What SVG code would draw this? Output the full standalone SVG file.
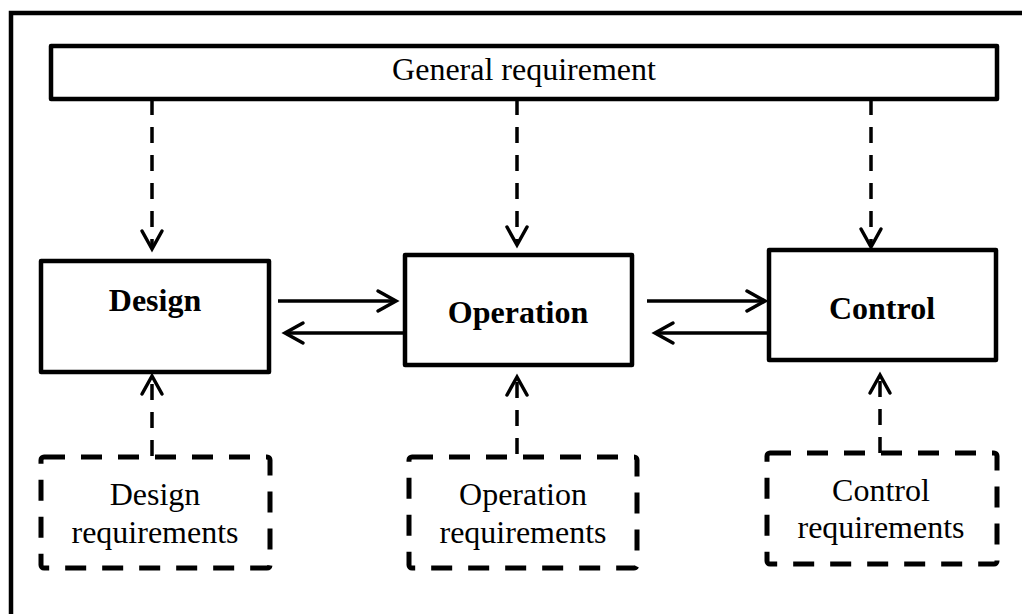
<svg xmlns="http://www.w3.org/2000/svg" width="1022" height="614" viewBox="0 0 1022 614">
<style>
.box{fill:#fff;stroke:#000;stroke-width:4.5;stroke-linejoin:round}
.dbox{fill:none;stroke:#000;stroke-width:5;stroke-dasharray:21 16;stroke-linejoin:round}
.solid{fill:none;stroke:#000;stroke-width:3.5;marker-end:url(#chev)}
.dash{fill:none;stroke:#000;stroke-width:3.5;stroke-dasharray:16 12;marker-end:url(#chev)}
.b{font-family:"Liberation Serif","Times New Roman",serif;font-size:32px;font-weight:bold;text-anchor:middle;fill:#000}
.r{font-family:"Liberation Serif","Times New Roman",serif;font-size:32px;text-anchor:middle;fill:#000}
</style>
<defs>
<marker id="chev" markerUnits="userSpaceOnUse" viewBox="-22 -13 26 26" markerWidth="26" markerHeight="26" refX="0" refY="0" orient="auto">
<path d="M-18,-10 L0,0 L-18,10" fill="none" stroke="#000" stroke-width="3.5" stroke-linecap="round" stroke-linejoin="miter"/>
</marker>
</defs>
<rect x="0" y="0" width="1022" height="614" fill="#fff"/>
<rect id="frame" x="11" y="13" width="1030" height="620" fill="none" stroke="#000" stroke-width="4.5"/>
<g id="connectors">
<path class="dash" d="M152,99 L152,249"/>
<path class="dash" d="M517,99 L517,245"/>
<path class="dash" d="M871,99 L871,247"/>
<path class="solid" d="M278,301 L396,301"/>
<path class="solid" d="M404,333 L285,333"/>
<path class="solid" d="M647,301 L765,301"/>
<path class="solid" d="M772,333 L655,333"/>
<path class="dash" d="M152,456 L152,376"/>
<path class="dash" d="M517,454 L517,377"/>
<path class="dash" d="M880,453 L880,375"/>
</g>
<g id="general">
<rect class="box" x="51" y="46" width="946" height="53"/>
<text class="r" x="524" y="80">General requirement</text>
</g>
<g id="design">
<rect class="box" x="41" y="261" width="228" height="111"/>
<text class="b" x="155" y="311">Design</text>
</g>
<g id="operation">
<rect class="box" x="405" y="255" width="227" height="110"/>
<text class="b" x="518" y="323">Operation</text>
</g>
<g id="control">
<rect class="box" x="769" y="250" width="227" height="110"/>
<text class="b" x="882" y="319">Control</text>
</g>
<g id="design-req">
<rect class="dbox" x="41" y="457" width="229" height="111" rx="3"/>
<text class="r" x="155" y="505">Design</text>
<text class="r" x="155" y="543">requirements</text>
</g>
<g id="operation-req">
<rect class="dbox" x="409" y="457" width="228" height="111" rx="3"/>
<text class="r" x="523" y="505">Operation</text>
<text class="r" x="523" y="543">requirements</text>
</g>
<g id="control-req">
<rect class="dbox" x="767" y="453" width="230" height="111" rx="3"/>
<text class="r" x="881" y="501">Control</text>
<text class="r" x="881" y="538">requirements</text>
</g>
</svg>
